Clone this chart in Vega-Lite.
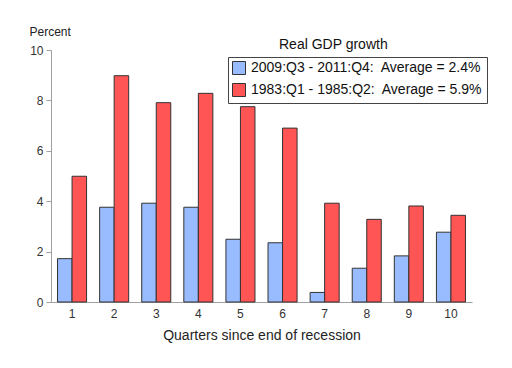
{
  "$schema": "https://vega.github.io/schema/vega-lite/v6.json",
  "autosize": "none",
  "width": 421,
  "height": 252,
  "padding": {"left": 51, "top": 50, "right": 40, "bottom": 66},
  "background": "white",
  "config": {
    "font": "Liberation Sans",
    "view": {"stroke": null},
    "axis": {"grid": false, "domainColor": "#a0a0a0", "tickColor": "#a0a0a0", "labelColor": "#333", "titleColor": "#222", "labelFont": "Liberation Sans", "titleFont": "Liberation Sans", "titleFontWeight": "normal"}
  },
  "title": {"text": "Real GDP growth", "anchor": "start", "frame": "group", "dx": 228, "offset": -27, "fontSize": 14, "fontWeight": "normal", "font": "Liberation Sans", "color": "#111"},
  "data": {"values": [
    {"q": 1, "series": "2009:Q3 - 2011:Q4:\u00a0 Average = 2.4%", "value": 1.72},
    {"q": 2, "series": "2009:Q3 - 2011:Q4:\u00a0 Average = 2.4%", "value": 3.76},
    {"q": 3, "series": "2009:Q3 - 2011:Q4:\u00a0 Average = 2.4%", "value": 3.92},
    {"q": 4, "series": "2009:Q3 - 2011:Q4:\u00a0 Average = 2.4%", "value": 3.76},
    {"q": 5, "series": "2009:Q3 - 2011:Q4:\u00a0 Average = 2.4%", "value": 2.49},
    {"q": 6, "series": "2009:Q3 - 2011:Q4:\u00a0 Average = 2.4%", "value": 2.35},
    {"q": 7, "series": "2009:Q3 - 2011:Q4:\u00a0 Average = 2.4%", "value": 0.38},
    {"q": 8, "series": "2009:Q3 - 2011:Q4:\u00a0 Average = 2.4%", "value": 1.34},
    {"q": 9, "series": "2009:Q3 - 2011:Q4:\u00a0 Average = 2.4%", "value": 1.83},
    {"q": 10, "series": "2009:Q3 - 2011:Q4:\u00a0 Average = 2.4%", "value": 2.77},
    {"q": 1, "series": "1983:Q1 - 1985:Q2:\u00a0 Average = 5.9%", "value": 4.99},
    {"q": 2, "series": "1983:Q1 - 1985:Q2:\u00a0 Average = 5.9%", "value": 8.98},
    {"q": 3, "series": "1983:Q1 - 1985:Q2:\u00a0 Average = 5.9%", "value": 7.91},
    {"q": 4, "series": "1983:Q1 - 1985:Q2:\u00a0 Average = 5.9%", "value": 8.28},
    {"q": 5, "series": "1983:Q1 - 1985:Q2:\u00a0 Average = 5.9%", "value": 7.75},
    {"q": 6, "series": "1983:Q1 - 1985:Q2:\u00a0 Average = 5.9%", "value": 6.9},
    {"q": 7, "series": "1983:Q1 - 1985:Q2:\u00a0 Average = 5.9%", "value": 3.92},
    {"q": 8, "series": "1983:Q1 - 1985:Q2:\u00a0 Average = 5.9%", "value": 3.28},
    {"q": 9, "series": "1983:Q1 - 1985:Q2:\u00a0 Average = 5.9%", "value": 3.81},
    {"q": 10, "series": "1983:Q1 - 1985:Q2:\u00a0 Average = 5.9%", "value": 3.44}
  ]},
  "mark": {"type": "bar", "stroke": "#333", "strokeWidth": 1, "opacity": 1, "fillOpacity": 1},
  "encoding": {
    "x": {"field": "q", "type": "ordinal", "scale": {"paddingInner": 0.31, "paddingOuter": 0.155},
      "axis": {"title": "Quarters since end of recession", "titleFontSize": 14, "titlePadding": 9, "labelAngle": 0, "labelFontSize": 12, "ticks": false, "labelPadding": 6}},
    "xOffset": {"field": "series", "type": "nominal", "sort": ["2009:Q3 - 2011:Q4:\u00a0 Average = 2.4%", "1983:Q1 - 1985:Q2:\u00a0 Average = 5.9%"]},
    "y": {"field": "value", "type": "quantitative", "scale": {"domain": [0, 10], "nice": false},
      "axis": {"values": [0, 2, 4, 6, 8, 10], "title": "Percent", "titleAngle": 0, "titleAlign": "left", "titleBaseline": "alphabetic", "titleX": -22, "titleY": -15, "titleFontSize": 12, "labelFontSize": 12, "tickSize": 5, "labelPadding": 3}},
    "color": {"field": "series", "type": "nominal",
      "scale": {"domain": ["2009:Q3 - 2011:Q4:\u00a0 Average = 2.4%", "1983:Q1 - 1985:Q2:\u00a0 Average = 5.9%"], "range": ["#99bbff", "#ff5555"]},
      "legend": {"title": null, "orient": "none", "legendX": 177, "legendY": 7, "padding": 4, "strokeColor": "#444", "symbolType": "square", "symbolSize": 169, "symbolStrokeColor": "#333", "symbolStrokeWidth": 1, "symbolFillOpacity": 1, "labelFontSize": 14, "labelColor": "#111", "labelOffset": 5, "rowPadding": 4, "labelLimit": 400}}
  }
}
